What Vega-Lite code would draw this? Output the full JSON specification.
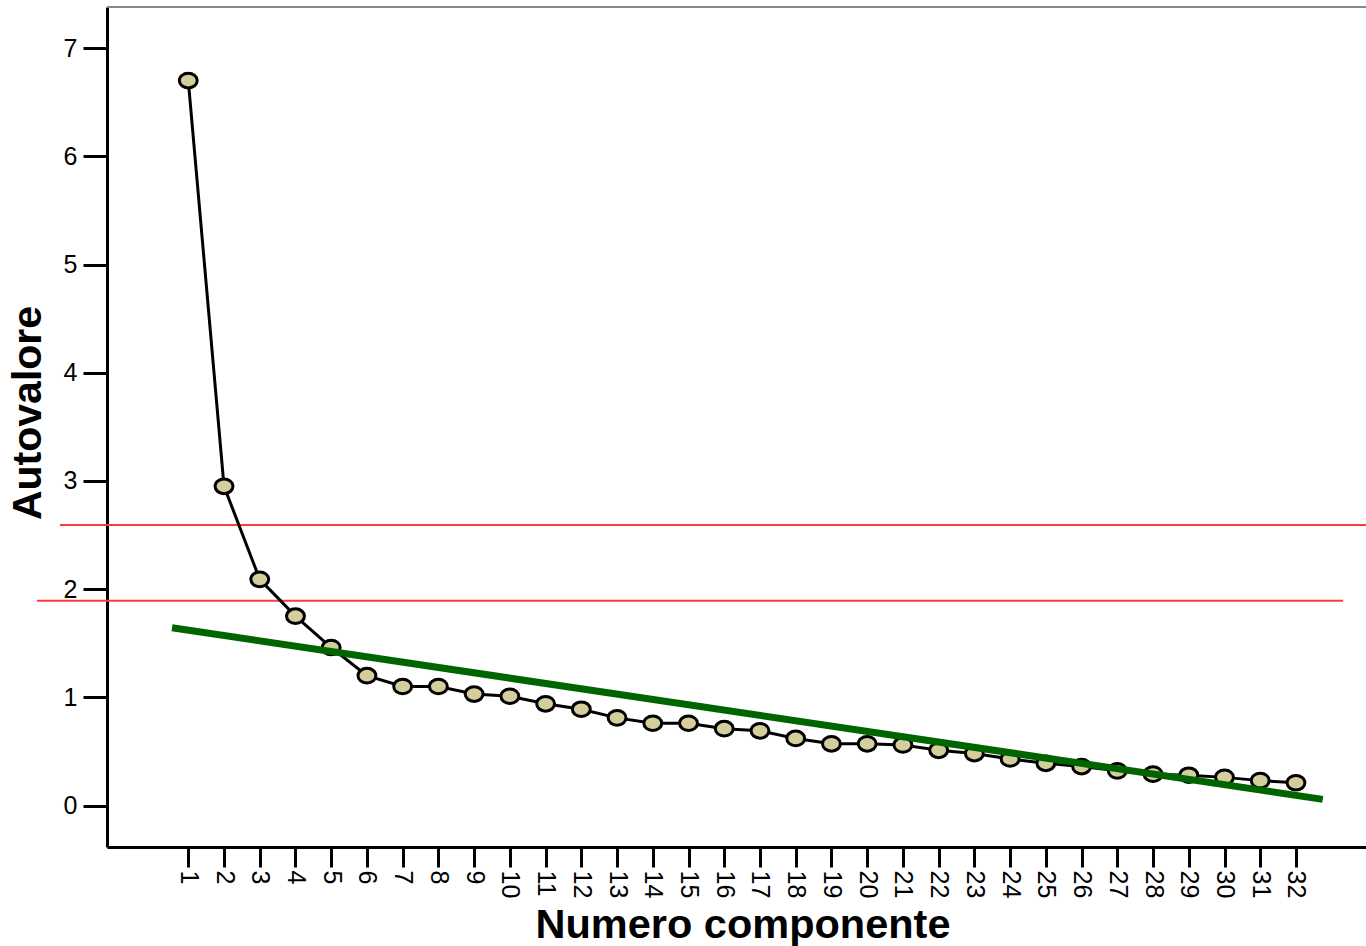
{
  "$schema": "https://vega.github.io/schema/vega-lite/v6.json",
  "width": 1259,
  "height": 840,
  "autosize": {"type": "none"},
  "padding": {"left": 107, "top": 7, "right": 0, "bottom": 99},
  "background": "white",
  "config": {"view": {"stroke": null}, "font": "Liberation Sans"},
  "datasets": {
    "eig": [
      {"x": 1, "y": 6.70}, {"x": 2, "y": 2.95}, {"x": 3, "y": 2.09}, {"x": 4, "y": 1.75},
      {"x": 5, "y": 1.46}, {"x": 6, "y": 1.20}, {"x": 7, "y": 1.10}, {"x": 8, "y": 1.10},
      {"x": 9, "y": 1.03}, {"x": 10, "y": 1.01}, {"x": 11, "y": 0.94}, {"x": 12, "y": 0.89},
      {"x": 13, "y": 0.81}, {"x": 14, "y": 0.76}, {"x": 15, "y": 0.76}, {"x": 16, "y": 0.71},
      {"x": 17, "y": 0.69}, {"x": 18, "y": 0.62}, {"x": 19, "y": 0.57}, {"x": 20, "y": 0.57},
      {"x": 21, "y": 0.56}, {"x": 22, "y": 0.51}, {"x": 23, "y": 0.48}, {"x": 24, "y": 0.43},
      {"x": 25, "y": 0.39}, {"x": 26, "y": 0.36}, {"x": 27, "y": 0.32}, {"x": 28, "y": 0.29},
      {"x": 29, "y": 0.28}, {"x": 30, "y": 0.26}, {"x": 31, "y": 0.23}, {"x": 32, "y": 0.21}
    ],
    "ref": [
      {"x": -2.59, "xe": 33.96, "y": 2.592},
      {"x": -3.235, "xe": 33.32, "y": 1.893}
    ],
    "trend": [
      {"x": 0.544, "y": 1.643},
      {"x": 32.75, "y": 0.057}
    ],
    "frame": [
      {"x": -1.275, "xe": 33.96, "y": 7.38}
    ]
  },
  "encoding": {
    "x": {
      "field": "x",
      "type": "quantitative",
      "scale": {"domain": [-1.275, 33.96], "nice": false, "zero": false},
      "axis": {
        "values": [1,2,3,4,5,6,7,8,9,10,11,12,13,14,15,16,17,18,19,20,21,22,23,24,25,26,27,28,29,30,31,32],
        "title": "Numero componente",
        "grid": false,
        "domainWidth": 3,
        "domainColor": "black",
        "tickColor": "black",
        "tickWidth": 3,
        "tickSize": 20,
        "labelAngle": 90,
        "labelFontSize": 25,
        "labelColor": "black",
        "labelPadding": 3,
        "labelFont": "Liberation Sans",
        "labelFlush": false,
        "labelOverlap": false,
        "titleFont": "Liberation Sans",
        "titleFontSize": 41.5,
        "titleFontWeight": "bold",
        "titleColor": "black",
        "titleX": 635.5,
        "titleY": 90,
        "titleBaseline": "alphabetic",
        "titleAlign": "center"
      }
    },
    "y": {
      "field": "y",
      "type": "quantitative",
      "scale": {"domain": [-0.3835, 7.38], "nice": false, "zero": false},
      "axis": {
        "values": [0,1,2,3,4,5,6,7],
        "title": "Autovalore",
        "grid": false,
        "domainWidth": 3,
        "domainColor": "black",
        "tickColor": "black",
        "tickWidth": 3,
        "tickSize": 24,
        "labelFontSize": 25,
        "labelColor": "black",
        "labelPadding": 6,
        "labelFont": "Liberation Sans",
        "labelFlush": false,
        "labelOverlap": false,
        "titleFont": "Liberation Sans",
        "titleFontSize": 41,
        "titleFontWeight": "bold",
        "titleColor": "black",
        "titleX": -79,
        "titleY": 405.5,
        "titleAngle": -90,
        "titleBaseline": "middle",
        "titleAlign": "center"
      }
    }
  },
  "layer": [
    {
      "data": {"name": "frame"},
      "mark": {"type": "rule", "color": "#888888", "strokeWidth": 2},
      "encoding": {"x2": {"field": "xe"}}
    },
    {
      "data": {"name": "ref"},
      "mark": {"type": "rule", "color": "#ff3a3a", "strokeWidth": 2},
      "encoding": {"x2": {"field": "xe"}}
    },
    {
      "data": {"name": "eig"},
      "mark": {"type": "line", "color": "black", "strokeWidth": 3},
      "encoding": {}
    },
    {
      "data": {"name": "eig"},
      "mark": {
        "type": "point",
        "shape": "M -1 0 A 1 0.82 0 1 1 1 0 A 1 0.82 0 1 1 -1 0 Z",
        "size": 320,
        "filled": true,
        "fill": "#d3ce9b",
        "stroke": "black",
        "strokeWidth": 3,
        "opacity": 1
      },
      "encoding": {}
    },
    {
      "data": {"name": "trend"},
      "mark": {"type": "line", "color": "#006400", "strokeWidth": 7},
      "encoding": {}
    }
  ]
}
